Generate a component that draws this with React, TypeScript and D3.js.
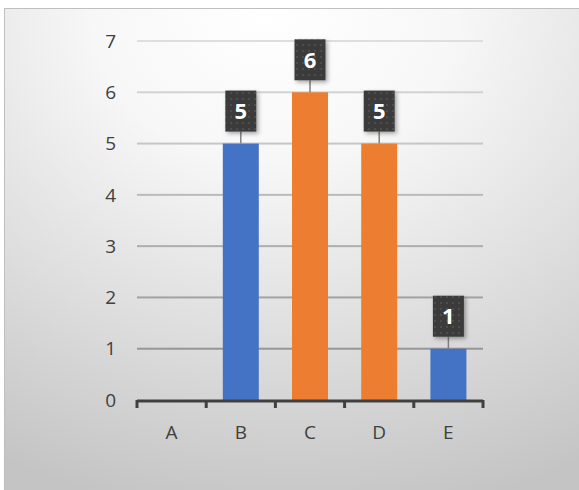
import React from "react";
import * as d3 from "d3";

const categories = ["A", "B", "C", "D", "E"];
const values = [0, 5, 6, 5, 1];
const barColors = ["#4472C4", "#4472C4", "#ED7D31", "#ED7D31", "#4472C4"];
const yTicks = [0, 1, 2, 3, 4, 5, 6, 7];

const W = 579;
const H = 490;
const left = 137;
const right = 483;
const top = 41;
const bottom = 400;

export default function App() {
  const x = d3.scaleBand<string>().domain(categories).range([left, right]).paddingInner(0.48).paddingOuter(0.24);
  const xb = d3.scaleBand<string>().domain(categories).range([left, right]);
  const y = d3.scaleLinear().domain([0, 7]).range([bottom, top]);
  const font = "'Open Sans', 'Noto Sans', sans-serif";
  const boxW = 31;
  const boxH = 41;
  const gap = 12;
  const tickXs = categories.map((c) => xb(c)!).concat([right]);

  return (
    <svg width={W} height={H} style={{ position: "absolute", left: 0, top: 0 }}>
      <defs>
        <radialGradient id="bg" cx="0.5" cy="0" r="1.05" fx="0.45" fy="0">
          <stop offset="0" stopColor="#ffffff" />
          <stop offset="0.3" stopColor="#f7f7f7" />
          <stop offset="1" stopColor="#c4c4c4" />
        </radialGradient>
        <linearGradient id="grid" gradientUnits="userSpaceOnUse" x1={0} y1={top} x2={0} y2={bottom}>
          <stop offset="0" stopColor="#dedede" />
          <stop offset="1" stopColor="#8a8a8a" />
        </linearGradient>
        <pattern id="dots" width="6" height="6" patternUnits="userSpaceOnUse">
          <rect width="6" height="6" fill="#3a3a3a" />
          <circle cx="3" cy="3" r="1" fill="#555555" />
        </pattern>
        <filter id="sh" x="-30%" y="-30%" width="160%" height="160%">
          <feDropShadow dx="2" dy="2" stdDeviation="2" floodColor="#000" floodOpacity="0.35" />
        </filter>
      </defs>
      <rect x={0} y={0} width={W} height={H} fill="#ffffff" />
      <rect x={4.5} y={8.5} width={W} height={H} fill="url(#bg)" stroke="#bfbfbf" strokeWidth={1} />
      {yTicks.map((t) => (
        <g key={t}>
          {t > 0 && (
            <rect x={left} width={right - left} y={y(t) - 1} height={2} fill="url(#grid)" />
          )}
          <text x={116} y={y(t)} dy="0.35em" textAnchor="end" fontFamily={font} fontSize={19} fill="#404040">
            {t}
          </text>
        </g>
      ))}
      {categories.map((c, i) => (
        <rect key={c} x={x(c)} y={y(values[i])} width={x.bandwidth()} height={bottom - y(values[i])} fill={barColors[i]} />
      ))}
      <line x1={left} x2={right} y1={bottom + 1} y2={bottom + 1} stroke="#404040" strokeWidth={3} />
      {tickXs.map((tx, i) => (
        <line key={i} x1={tx} x2={tx} y1={bottom} y2={bottom + 8} stroke="#404040" strokeWidth={3} />
      ))}
      {categories.map((c) => (
        <text key={c} x={xb(c)! + xb.bandwidth() / 2} y={432} dy="0.35em" textAnchor="middle" fontFamily={font} fontSize={19} fill="#404040">
          {c}
        </text>
      ))}
      {categories.map((c, i) => {
        if (values[i] === 0) return null;
        const cx = x(c)! + x.bandwidth() / 2;
        const by = y(values[i]);
        const boxBottom = by - gap;
        return (
          <g key={"l" + c}>
            <line x1={cx} x2={cx} y1={boxBottom} y2={by} stroke="#7f7f7f" strokeWidth={1.5} />
            <rect x={cx - boxW / 2} y={boxBottom - boxH} width={boxW} height={boxH} fill="url(#dots)" filter="url(#sh)" />
            <text x={cx} y={boxBottom - boxH / 2} dy="0.36em" textAnchor="middle" fontFamily={font} fontWeight="bold" fontSize={22} fill="#ffffff">
              {values[i]}
            </text>
          </g>
        );
      })}
    </svg>
  );
}
